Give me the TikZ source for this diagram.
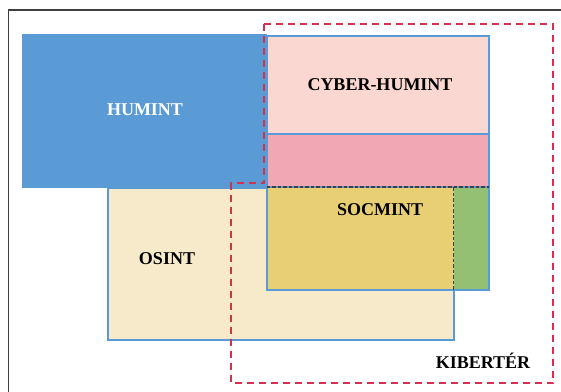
\documentclass[tikz,border=0pt]{standalone}
\usepackage{fontspec}
\setmainfont{Liberation Serif}

\definecolor{huminthue}{HTML}{5B9BD5}
\definecolor{edgeblue}{HTML}{5B9BD5}
\definecolor{cyberpink}{HTML}{FAD7D1}
\definecolor{deeppink}{HTML}{F2A8B4}
\definecolor{osintbeige}{HTML}{F6EACA}
\definecolor{socyellow}{HTML}{E8CF74}
\definecolor{socgreen}{HTML}{93C072}
\definecolor{cyberred}{HTML}{D6304F}
\definecolor{framegrey}{HTML}{3F3F3F}

\tikzset{
  area/.style={draw=edgeblue, line width=2pt},
  label/.style={font=\fontsize{18}{20}\selectfont\bfseries, text=black, inner sep=0pt},
  spacedash/.style={draw=cyberred, line width=2pt, dash pattern=on 7pt off 5pt},
  innerdash/.style={draw=black!75, line width=1.1pt, dash pattern=on 3.5pt off 2pt}
}

\begin{document}
\begin{tikzpicture}[x=1pt, y=-1pt]
\useasboundingbox (0,0) rectangle (561,391);

% Draw the outer frame
\draw[framegrey, line width=1.3pt] (8.5,400) -- (8.5,10) -- (570,10);

% Draw the areas
\fill[huminthue] (22,33.5) rectangle (266.5,187.5);
\draw[area, fill=osintbeige] (107.5,187.5) rectangle (453.5,340);
\draw[area, fill=cyberpink] (266.5,35.5) rectangle (488.5,134);
\draw[area, fill=deeppink] (266.5,134) rectangle (488.5,187);
\fill[socyellow] (266.5,187) rectangle (453.5,290);
\fill[socgreen] (453.5,187) rectangle (488.5,290);
\draw[area] (266.5,187) rectangle (488.5,290);

% Inner dashed borders
\draw[innerdash] (266.5,187) -- (488.5,187);
\draw[innerdash] (453.5,187) -- (453.5,290);

% Cyberspace border
\draw[spacedash] (264,23.5) -- (553,23.5) -- (553,383) -- (231,383)
  -- (231,183) -- (264,183) -- cycle;

% Insert the labels
\node[label, text=white] (humint) at (145,110) {HUMINT};
\node[label] (cyberhumint) at (380,85) {CYBER-HUMINT};
\node[label] (socmint) at (380,210) {SOCMINT};
\node[label] (osint) at (167,259) {OSINT};
\node[label] (kiberter) at (483,361) {KIBERTÉR};
\end{tikzpicture}
\end{document}
